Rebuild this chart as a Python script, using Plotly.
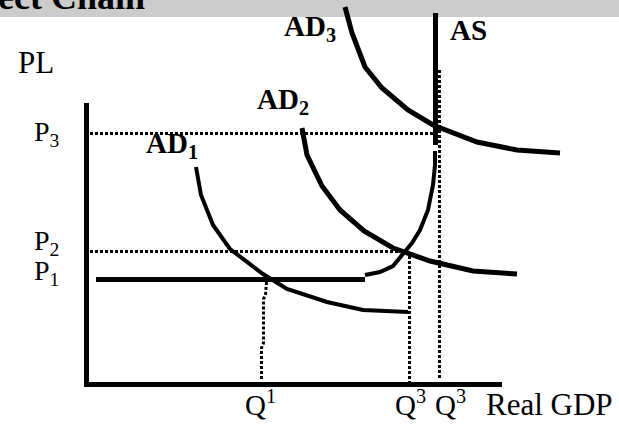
import plotly.graph_objects as go

# Coordinate space: a 619 x 427 canvas (x right, y down)
W, H = 619, 427

# Curves (x, y)
ad1_x = [196, 201, 213, 230, 263, 287, 327, 363, 408]
ad1_y = [167, 195, 225, 249, 274, 289, 302, 310, 312]
ad2_x = [302, 307, 322, 340, 364, 393, 430, 473, 517]
ad2_y = [128, 155, 186, 210, 231, 248, 261, 271, 274]
ad3_x = [345, 352, 365, 382, 408, 433, 477, 517, 560]
ad3_y = [7, 33, 67, 88, 110, 125, 142, 150, 153]
as_top_x = [435.5, 435.5]
as_top_y = [13, 145]
as_curve_x = [365, 380, 393, 405, 412, 420, 428, 433, 435, 435]
as_curve_y = [275, 272, 266, 252, 243, 230, 210, 185, 165, 151]
p1_x = [96, 365]
p1_y = [279.5, 279.5]
yaxis_x = [86.5, 86.5]
yaxis_y = [103, 386]
xaxis_x = [84, 502]
xaxis_y = [384.5, 384.5]
# dotted guide lines
p3_x, p3_y = [90, 435], [133.5, 133.5]
p2_x, p2_y = [90, 405], [251.5, 251.5]
q1_x = [266.5, 265.5, 263.5, 263.5, 261.5, 261.5]
q1_y = [282, 295, 299, 343, 348, 381]
q3a_x, q3a_y = [409.5, 409.5], [256, 382]
q3b_x, q3b_y = [439.5, 439.5], [70, 378]

fig = go.Figure()

def line(x, y, w, dash=None):
    fig.add_trace(go.Scatter(x=x, y=y, mode="lines",
                             line=dict(color="black", width=w, dash=dash),
                             hoverinfo="skip", showlegend=False))

DOT = "3px,2px"
line(p3_x, p3_y, 3, DOT)
line(p2_x, p2_y, 3, DOT)
line(q1_x, q1_y, 3, DOT)
line(q3a_x, q3a_y, 3, DOT)
line(q3b_x, q3b_y, 3, DOT)
line(yaxis_x, yaxis_y, 5)
line(xaxis_x, xaxis_y, 5)
line(p1_x, p1_y, 5)
line(as_top_x, as_top_y, 5)
line(as_curve_x, as_curve_y, 4)
line(ad1_x, ad1_y, 4)
line(ad2_x, ad2_y, 5)
line(ad3_x, ad3_y, 5)

SERIF = "Liberation Serif, Times New Roman, serif"

def label(x, y, text, size, bold=False):
    t = f"<b>{text}</b>" if bold else text
    fig.add_annotation(x=x, y=y, xref="x", yref="y", text=t, showarrow=False,
                       xanchor="left", yanchor="middle",
                       font=dict(family=SERIF, size=size, color="black"))

label(282, 28, "AD<sub>3</sub>", 29, True)
label(448, 30, "AS", 29, True)
label(255, 101, "AD<sub>2</sub>", 29, True)
label(144, 145, "AD<sub>1</sub>", 29, True)
label(16, 62, "PL", 31)
label(32, 133, "P<sub>3</sub>", 28)
label(32, 242, "P<sub>2</sub>", 28)
label(32, 272, "P<sub>1</sub>", 28)
label(243, 403, "Q<sup>1</sup>", 29)
label(393, 403, "Q<sup>3</sup>", 29)
label(433, 403, "Q<sup>3</sup>", 29)
label(484, 404, "Real GDP", 31)

# header bar with cut-off title
fig.add_shape(type="rect", xref="x", yref="y", x0=0, x1=W, y0=0, y1=17,
              fillcolor="#cccccc", line=dict(width=0), layer="below")
fig.add_annotation(x=-4 / W, y=1 - 9.5 / H, xref="paper", yref="paper",
                   text="<b>ect Chain</b>", showarrow=False,
                   xanchor="left", yanchor="bottom", yshift=-9,
                   font=dict(family=SERIF, size=36, color="black"))

fig.update_layout(width=W, height=H, margin=dict(l=0, r=0, t=0, b=0),
                  paper_bgcolor="white", plot_bgcolor="white",
                  xaxis=dict(range=[0, W], visible=False, fixedrange=True),
                  yaxis=dict(range=[H, 0], visible=False, fixedrange=True),
                  showlegend=False)

fig.write_html("out.html", config={"displayModeBar": False},
               post_script="document.body.style.margin='0';"
                           "document.body.style.overflow='hidden';")
